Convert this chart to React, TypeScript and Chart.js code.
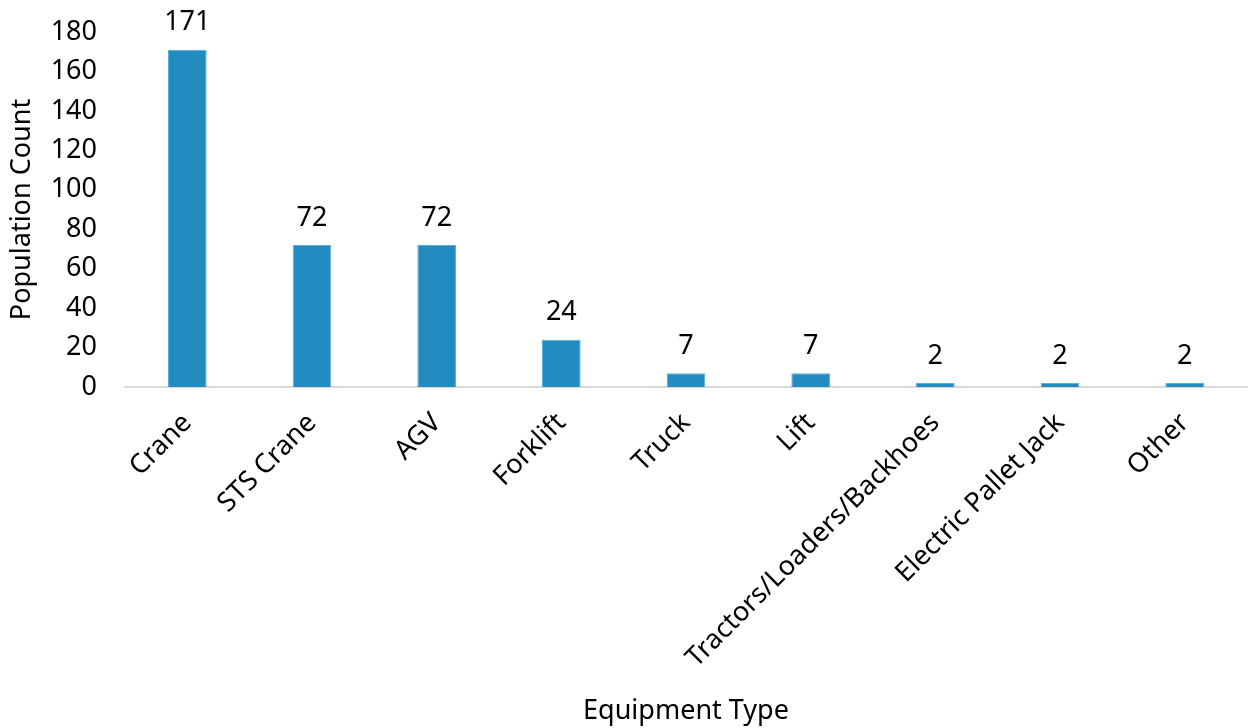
import React, { useEffect, useRef } from "react";
import { Chart, registerables } from "chart.js";

Chart.register(...registerables);

const categories = [
  "Crane",
  "STS Crane",
  "AGV",
  "Forklift",
  "Truck",
  "Lift",
  "Tractors/Loaders/Backhoes",
  "Electric Pallet Jack",
  "Other",
];
const counts = [171, 72, 72, 24, 7, 7, 2, 2, 2];
const yTicks = [0, 20, 40, 60, 80, 100, 120, 140, 160, 180];

const FONT = "'Noto Sans', sans-serif";
const FS = 27;

const valueLabels = {
  id: "valueLabels",
  afterDatasetsDraw(chart: any) {
    const ctx = chart.ctx;
    const meta = chart.getDatasetMeta(0);
    ctx.save();
    ctx.font = `${FS}px ${FONT}`;
    ctx.fillStyle = "#000";
    ctx.textAlign = "center";
    ctx.textBaseline = "middle";
    meta.data.forEach((bar: any, i: number) => {
      const v = chart.data.datasets[0].data[i];
      ctx.fillText(String(v), bar.x, bar.y - 27);
    });
    ctx.restore();
  },
};

export default function App() {
  const ref = useRef<HTMLCanvasElement | null>(null);
  useEffect(() => {
    document.body.style.margin = "0";
    if (!ref.current) return;
    const chart = new Chart(ref.current, {
      type: "bar",
      data: {
        labels: categories,
        datasets: [
          {
            data: counts,
            backgroundColor: "#228BC0",
            borderColor: "#5AAFD8",
            borderWidth: 1,
            barPercentage: 0.62,
            categoryPercentage: 0.5,
          },
        ],
      },
      options: {
        animation: false,
        responsive: true,
        maintainAspectRatio: false,
        layout: { padding: { top: 32, right: 2, left: 0, bottom: 0 } },
        plugins: {
          legend: { display: false },
          tooltip: { enabled: false },
        },
        scales: {
          x: {
            afterFit: (axis: any) => {
              axis.height = 341;
            },
            grid: { display: false, drawTicks: false },
            border: { display: true, color: "#d9d9d9", width: 2 },
            ticks: {
              color: "#000",
              font: { family: FONT, size: FS },
              maxRotation: 45,
              minRotation: 45,
              padding: 20,
              autoSkip: false,
            },
            title: {
              display: true,
              text: "Equipment Type",
              color: "#000",
              font: { family: FONT, size: FS },
              padding: { top: 4, bottom: 0 },
            },
          },
          y: {
            min: 0,
            max: 180,
            afterBuildTicks: (axis: any) => {
              axis.ticks = yTicks.map((v) => ({ value: v }));
            },
            afterFit: (axis: any) => {
              axis.width = 125;
              axis.paddingTop = 0;
              axis.paddingBottom = 0;
            },
            grid: { display: false, drawTicks: false },
            border: { display: false },
            ticks: {
              color: "#000",
              font: { family: FONT, size: FS },
              padding: 28,
            },
            title: {
              display: true,
              text: "Population Count",
              color: "#000",
              font: { family: FONT, size: FS },
              padding: { top: 6, bottom: 0 },
            },
          },
        },
      },
      plugins: [valueLabels],
    });
    return () => chart.destroy();
  }, []);
  return (
    <div style={{ position: "absolute", left: 0, top: 0, width: 1249, height: 728 }}>
      <canvas ref={ref} />
    </div>
  );
}
